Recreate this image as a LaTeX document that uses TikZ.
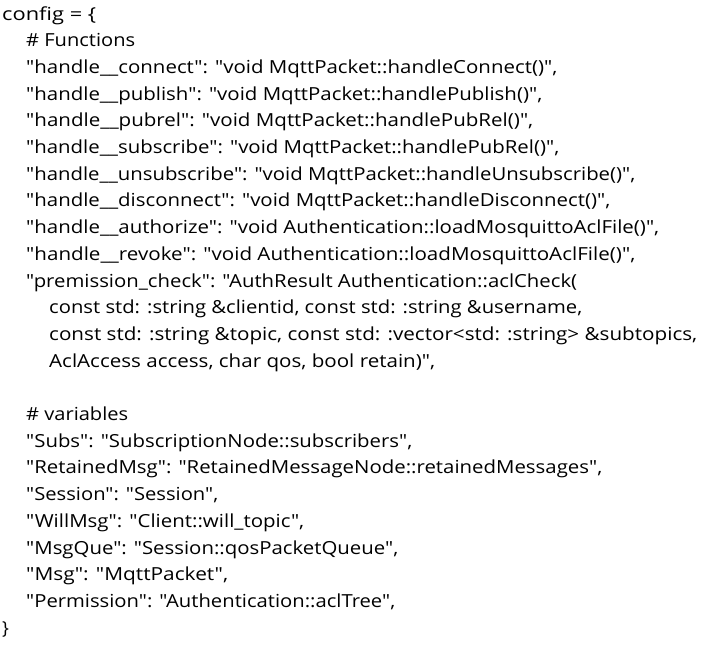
\documentclass[tikz,border=0pt]{standalone}
\usepackage{fontspec}
\usepackage{graphicx}
\newfontfamily\codefont{Open Sans}
\newcommand\fitline[2]{\resizebox{#1pt}{\height}{#2}}
\begin{document}
\begin{tikzpicture}[x=1pt,y=1pt,
  codeline/.style={anchor=base west, inner sep=0pt, font=\codefont\fontsize{18}{20}\selectfont}]
\useasboundingbox[fill=white] (0,0) rectangle (706,-648);
\def\ls{26.7}
\def\bl{20}
\node[codeline] (l0)  at (2,  {-(\bl+0*\ls)}) {\fitline{94}{config = \{}};
\node[codeline] (l1)  at (26, {-(\bl+1*\ls)}) {\fitline{109}{\# Functions}};
\node[codeline] (l2)  at (26, {-(\bl+2*\ls)}) {\fitline{531}{"handle\_\_connect": "void MqttPacket::handleConnect()",}};
\node[codeline] (l3)  at (26, {-(\bl+3*\ls)}) {\fitline{516}{"handle\_\_publish": "void MqttPacket::handlePublish()",}};
\node[codeline] (l4)  at (26, {-(\bl+4*\ls)}) {\fitline{507}{"handle\_\_pubrel": "void MqttPacket::handlePubRel()",}};
\node[codeline] (l5)  at (26, {-(\bl+5*\ls)}) {\fitline{533}{"handle\_\_subscribe": "void MqttPacket::handlePubRel()",}};
\node[codeline] (l6)  at (26, {-(\bl+6*\ls)}) {\fitline{609}{"handle\_\_unsubscribe": "void MqttPacket::handleUnsubscribe()",}};
\node[codeline] (l7)  at (26, {-(\bl+7*\ls)}) {\fitline{584}{"handle\_\_disconnect": "void MqttPacket::handleDisconnect()",}};
\node[codeline] (l8)  at (26, {-(\bl+8*\ls)}) {\fitline{633}{"handle\_\_authorize": "void Authentication::loadMosquittoAclFile()",}};
\node[codeline] (l9)  at (26, {-(\bl+9*\ls)}) {\fitline{609}{"handle\_\_revoke": "void Authentication::loadMosquittoAclFile()",}};
\node[codeline] (l10) at (26, {-(\bl+10*\ls)}) {\fitline{551}{"premission\_check": "AuthResult Authentication::aclCheck(}};
\node[codeline] (l11) at (49, {-(\bl+11*\ls)}) {\fitline{533}{const std: :string \&clientid, const std: :string \&username,}};
\node[codeline] (l12) at (49, {-(\bl+12*\ls)}) {\fitline{648}{const std: :string \&topic, const std: :vector<std: :string> \&subtopics,}};
\node[codeline] (l13) at (49, {-(\bl+13*\ls)}) {\fitline{386}{AclAccess access, char qos, bool retain)",}};
\node[codeline] (l15) at (26, {-(\bl+15*\ls)}) {\fitline{102}{\# variables}};
\node[codeline] (l16) at (26, {-(\bl+16*\ls)}) {\fitline{386}{"Subs": "SubscriptionNode::subscribers",}};
\node[codeline] (l17) at (26, {-(\bl+17*\ls)}) {\fitline{576}{"RetainedMsg": "RetainedMessageNode::retainedMessages",}};
\node[codeline] (l18) at (26, {-(\bl+18*\ls)}) {\fitline{192}{"Session": "Session",}};
\node[codeline] (l19) at (26, {-(\bl+19*\ls)}) {\fitline{278}{"WillMsg": "Client::will\_topic",}};
\node[codeline] (l20) at (26, {-(\bl+20*\ls)}) {\fitline{372}{"MsgQue": "Session::qosPacketQueue",}};
\node[codeline] (l21) at (26, {-(\bl+21*\ls)}) {\fitline{202}{"Msg": "MqttPacket",}};
\node[codeline] (l22) at (26, {-(\bl+22*\ls)}) {\fitline{369}{"Permission": "Authentication::aclTree",}};
\node[codeline] (l23) at (2,  {-(\bl+23*\ls)}) {\}};
\end{tikzpicture}
\end{document}
